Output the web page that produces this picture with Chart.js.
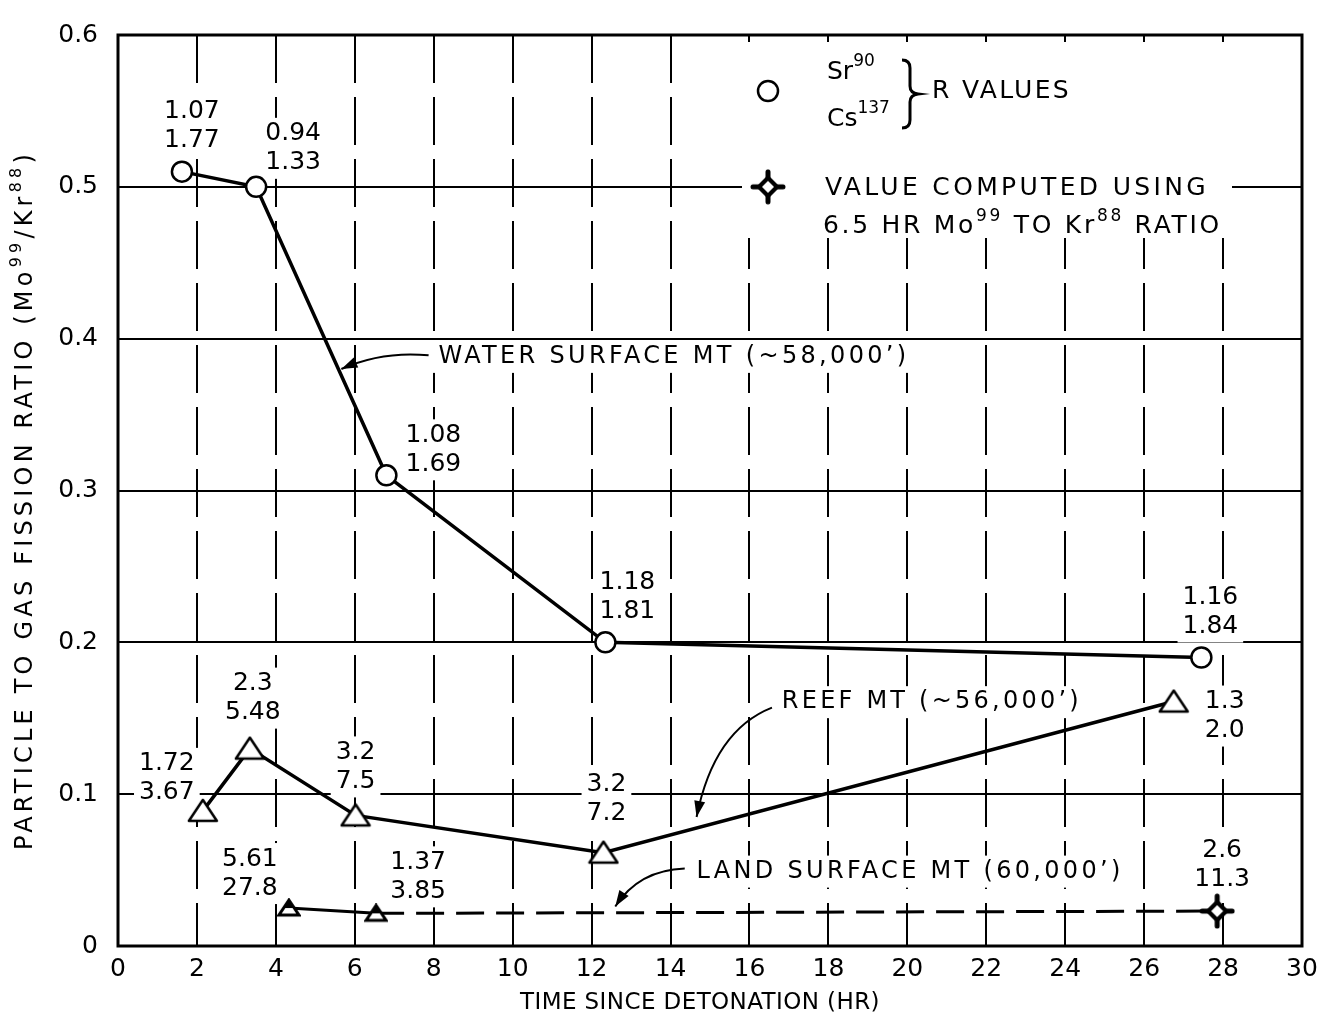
<!DOCTYPE html>
<html>
<head>
<meta charset="utf-8">
<script src="https://cdn.jsdelivr.net/npm/chart.js@4.4.1/dist/chart.umd.min.js"></script>
<style>
  html, body { margin: 0; padding: 0; background: #fff; }
</style>
</head>
<body>
<canvas id="myChart" width="1340" height="1036"></canvas>
<script>
// time since detonation (hr) vs particle to gas fission ratio (Mo99/Kr88)
const waterHours = [1.62, 3.5, 6.8, 12.35, 27.45];
const waterRatio = [0.51, 0.50, 0.31, 0.20, 0.19];
const waterSr = ['1.07', '0.94', '1.08', '1.18', '1.16'];
const waterCs = ['1.77', '1.33', '1.69', '1.81', '1.84'];

const reefHours = [2.15, 3.34, 6.02, 12.3, 26.75];
const reefRatio = [0.089, 0.13, 0.086, 0.0615, 0.161];
const reefSr = ['1.72', '2.3', '3.2', '3.2', '1.3'];
const reefCs = ['3.67', '5.48', '7.5', '7.2', '2.0'];

const landHours = [4.33, 6.54, 27.85];
const landRatio = [0.025, 0.0215, 0.023];
const landSr = ['5.61', '1.37', '2.6'];
const landCs = ['27.8', '3.85', '11.3'];

const xTickLabels = ['0', '2', '4', '6', '8', '10', '12', '14', '16', '18', '20', '22', '24', '26', '28', '30'];
const yTickLabels = ['0', '0.1', '0.2', '0.3', '0.4', '0.5', '0.6'];

const FONT = '"DejaVu Sans", sans-serif';

// where the two-line R value labels sit, relative to their point (px)
const labelOffsets = [
  [[10, -60], [37, -53], [47, -40], [22, -60], [9, -60]],
  [[-36, -47], [3, -65], [0, -63], [3, -68], [51, 0]],
  [[-39, -49], [42, -51], [5, -61]]
];
const labelTop = [waterSr, reefSr, landSr];
const labelBottom = [waterCs, reefCs, landCs];

// curve labels with arrows, in data units
const notes = [
  { text: 'WATER SURFACE MT (~58,000’)', at: [8.12, 0.388], width: 471,
    from: [7.87, 0.389], ctrl: [6.7, 0.392], tip: [5.66, 0.380] },
  { text: 'REEF MT (~56,000’)', at: [16.82, 0.1606], width: 300,
    from: [16.57, 0.157], ctrl: [15.1, 0.142], tip: [14.66, 0.085] },
  { text: 'LAND SURFACE MT (60,000’)', at: [14.66, 0.049], width: 427,
    from: [14.36, 0.051], ctrl: [13.2, 0.05], tip: [12.6, 0.026] }
];

// marker images
function makeCanvas(w, h, fn) {
  const c = document.createElement('canvas');
  c.width = w; c.height = h;
  fn(c.getContext('2d'));
  return c;
}
const reefTri = makeCanvas(32, 26, g => {
  g.beginPath(); g.moveTo(16, 2); g.lineTo(30, 23); g.lineTo(2, 23); g.closePath();
  g.fillStyle = '#fff'; g.fill();
  g.lineWidth = 2.5; g.lineJoin = 'round'; g.strokeStyle = '#000'; g.stroke();
});
const landTri = makeCanvas(24, 20, g => {
  g.beginPath(); g.moveTo(12, 2); g.lineTo(22, 17); g.lineTo(2, 17); g.closePath();
  g.fillStyle = '#fff'; g.fill();
  g.lineWidth = 3; g.strokeStyle = '#000'; g.stroke();
  g.beginPath(); g.moveTo(12, 2); g.lineTo(17, 10); g.lineTo(7, 10); g.closePath();
  g.fillStyle = '#000'; g.fill();
});
const computedMark = makeCanvas(36, 36, g => {
  g.strokeStyle = '#000'; g.fillStyle = '#000'; g.lineCap = 'round';
  g.lineWidth = 5;
  g.beginPath();
  g.moveTo(18, 3); g.lineTo(18, 33);
  g.moveTo(3, 18); g.lineTo(33, 18);
  g.stroke();
  g.beginPath();
  g.moveTo(18, 6); g.lineTo(30, 18); g.lineTo(18, 30); g.lineTo(6, 18); g.closePath();
  g.fill();
  g.beginPath();
  g.moveTo(18, 12); g.lineTo(24, 18); g.lineTo(18, 24); g.lineTo(12, 18); g.closePath();
  g.fillStyle = '#fff'; g.fill();
});

// text with superscripts, optional width fit by letter spacing
function drawRich(ctx, segs, x, y, o) {
  const size = o.size, sup = Math.round(size * 0.68);
  const fontOf = s => (s ? sup : size) + 'px ' + FONT;
  const measure = sp => segs.reduce((w, [t, s]) => {
    ctx.font = fontOf(s); ctx.letterSpacing = sp + 'px';
    return w + ctx.measureText(t).width;
  }, 0);
  let spacing = o.spacing || 0;
  if (o.width) {
    const n = segs.reduce((a, [t]) => a + t.length, 0);
    spacing = (o.width - measure(0)) / n;
  }
  const total = measure(spacing);
  let cx = o.align === 'center' ? x - total / 2 : x;
  ctx.textAlign = 'left'; ctx.textBaseline = 'middle'; ctx.fillStyle = '#000';
  for (const [t, s] of segs) {
    ctx.font = fontOf(s); ctx.letterSpacing = spacing + 'px';
    ctx.fillText(t, cx, s ? y - size * 0.4 : y);
    cx += ctx.measureText(t).width;
  }
  ctx.letterSpacing = '0px';
  return total;
}

function arrow(ctx, p0, c, p1) {
  ctx.beginPath(); ctx.moveTo(p0[0], p0[1]); ctx.quadraticCurveTo(c[0], c[1], p1[0], p1[1]); ctx.stroke();
  const a = Math.atan2(p1[1] - c[1], p1[0] - c[0]);
  const L = 16, W = 5.5;
  ctx.beginPath();
  ctx.moveTo(p1[0], p1[1]);
  ctx.lineTo(p1[0] - L * Math.cos(a) + W * Math.sin(a), p1[1] - L * Math.sin(a) - W * Math.cos(a));
  ctx.lineTo(p1[0] - L * Math.cos(a) - W * Math.sin(a), p1[1] - L * Math.sin(a) + W * Math.cos(a));
  ctx.closePath(); ctx.fill();
}

const LABEL_SIZE = 25, LINE_GAP = 29;

function eachLabel(chart, fn) {
  labelOffsets.forEach((offs, d) => {
    const pts = chart.getDatasetMeta(d).data;
    offs.forEach(([dx, dy], i) => {
      fn(pts[i].x + dx, pts[i].y + dy, labelTop[d][i], labelBottom[d][i]);
    });
  });
}

const paper = {
  id: 'paper',
  beforeDatasetsDraw(chart) {
    // white patches so the grid breaks around the lettering, like the original
    const { ctx, scales: { x, y } } = chart;
    ctx.save();
    ctx.fillStyle = '#fff';
    ctx.font = LABEL_SIZE + 'px ' + FONT;
    eachLabel(chart, (lx, ly, a, b) => {
      const w = Math.max(ctx.measureText(a).width, ctx.measureText(b).width);
      ctx.fillRect(lx - w / 2 - 5, ly - 16, w + 10, LINE_GAP + 32);
    });
    notes.forEach(n => {
      ctx.fillRect(x.getPixelForValue(n.at[0]) - 6, y.getPixelForValue(n.at[1]) - 16, n.width + 12, 32);
    });
    ctx.fillRect(742, 42, 490, 196);
    ctx.restore();
  },
  afterDraw(chart) {
    const { ctx, chartArea: a, scales: { x, y } } = chart;
    ctx.save();
    // frame
    ctx.strokeStyle = '#000'; ctx.lineWidth = 3;
    ctx.strokeRect(a.left, a.top, a.right - a.left, a.bottom - a.top);

    // R values
    ctx.fillStyle = '#000';
    ctx.font = LABEL_SIZE + 'px ' + FONT;
    ctx.textAlign = 'center'; ctx.textBaseline = 'middle';
    eachLabel(chart, (lx, ly, t, b) => {
      ctx.fillText(t, lx, ly);
      ctx.fillText(b, lx, ly + LINE_GAP);
    });

    // curve labels
    ctx.lineWidth = 2; ctx.strokeStyle = '#000'; ctx.fillStyle = '#000';
    notes.forEach(n => {
      const p = v => [x.getPixelForValue(v[0]), y.getPixelForValue(v[1])];
      const [tx, ty] = p(n.at);
      drawRich(ctx, [[n.text]], tx, ty, { size: 24, width: n.width });
      arrow(ctx, p(n.from), p(n.ctrl), p(n.tip));
    });

    // key
    const y5 = y.getPixelForValue(0.5);
    ctx.beginPath(); ctx.arc(768, 91, 10, 0, Math.PI * 2);
    ctx.lineWidth = 2.5; ctx.stroke();
    drawRich(ctx, [['Sr'], ['90', true]], 827, 72, { size: 25 });
    drawRich(ctx, [['Cs'], ['137', true]], 827, 119, { size: 25 });
    ctx.lineWidth = 3;
    ctx.beginPath();
    ctx.moveTo(902, 60); ctx.quadraticCurveTo(910, 60, 910, 68); ctx.lineTo(910, 86);
    ctx.quadraticCurveTo(910, 93, 918, 94); ctx.quadraticCurveTo(910, 95, 910, 102);
    ctx.lineTo(910, 120); ctx.quadraticCurveTo(910, 128, 902, 128);
    ctx.stroke();
    drawRich(ctx, [['R VALUES']], 932, 91, { size: 25, width: 139 });
    ctx.drawImage(computedMark, 768 - 18, y5 - 18);
    drawRich(ctx, [['VALUE COMPUTED USING']], 825, y5 + 2, { size: 25, width: 384 });
    drawRich(ctx, [['6.5 HR Mo'], ['99', true], [' TO Kr'], ['88', true], [' RATIO']], 823, y5 + 40, { size: 25, width: 399 });

    // axis titles
    drawRich(ctx, [['TIME SINCE DETONATION (HR)']], 700, 1003, { size: 23, width: 360, align: 'center' });
    ctx.translate(26, 500);
    ctx.rotate(-Math.PI / 2);
    drawRich(ctx, [['PARTICLE TO GAS FISSION RATIO (Mo'], ['99', true], ['/Kr'], ['88', true], [')']], 0, 0,
      { size: 24, width: 700, align: 'center' });
    ctx.restore();
  }
};

const toPoints = (xs, ys) => xs.map((v, i) => ({ x: v, y: ys[i] }));

const ctx = document.getElementById('myChart');
const myChart = new Chart(ctx, {
  type: 'scatter',
  data: {
    datasets: [{
      label: 'Water surface MT',
      data: toPoints(waterHours, waterRatio),
      showLine: true,
      borderColor: '#000',
      borderWidth: 3.5,
      pointStyle: 'circle',
      pointRadius: 10,
      pointBorderWidth: 2.5,
      pointBackgroundColor: '#fff',
      pointBorderColor: '#000'
    }, {
      label: 'Reef MT',
      data: toPoints(reefHours, reefRatio),
      showLine: true,
      borderColor: '#000',
      borderWidth: 3.5,
      pointStyle: reefTri,
      pointRadius: 12
    }, {
      label: 'Land surface MT',
      data: toPoints(landHours, landRatio),
      showLine: true,
      borderColor: '#000',
      borderWidth: 3,
      segment: { borderDash: c => c.p0DataIndex === 0 ? [] : [28, 12] },
      pointStyle: [landTri, landTri, computedMark],
      pointRadius: 10
    }]
  },
  options: {
    responsive: false,
    animation: false,
    layout: { padding: { left: 0, top: 23, right: 38, bottom: 0 } },
    plugins: { legend: { display: false }, tooltip: { enabled: false } },
    scales: {
      x: {
        type: 'linear', min: 0, max: 30,
        ticks: { stepSize: 2, padding: 8, color: '#000', font: { family: FONT, size: 25 },
          callback: (v, i) => xTickLabels[i] },
        grid: { color: '#000', lineWidth: 2, drawTicks: false },
        border: { display: false, dash: [48, 14] },
        afterFit: s => { s.height = 90; }
      },
      y: {
        min: 0, max: 0.6,
        ticks: { stepSize: 0.1, padding: 20, color: '#000', font: { family: FONT, size: 25 },
          callback: (v, i) => yTickLabels[i] },
        grid: { color: '#000', lineWidth: 2, drawTicks: false },
        border: { display: false },
        afterFit: s => { s.width = 118; }
      }
    }
  },
  plugins: [paper]
});
</script>
</body>
</html>
